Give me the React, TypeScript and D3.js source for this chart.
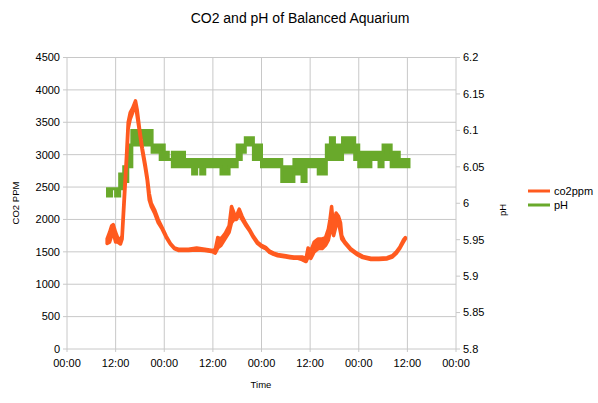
import { useEffect } from "react";
import * as d3 from "d3";

// time in hours from the first 00:00 on the axis
const co2Hours = [
  9.9, 10.5, 11.0, 11.4, 12.0, 12.5, 13.2, 13.6, 14.2, 14.7, 15.1, 15.6, 16.2, 16.9, 17.3, 17.9,
  18.6, 19.3, 19.8, 20.3, 20.8, 21.6, 22.5, 23.5, 24.5, 25.5, 26.5, 27.5, 30, 32, 34, 36, 36.6,
  37.2, 38, 39, 40, 40.6, 41.2, 41.8, 42.5, 43.2, 44, 45, 46, 47, 48, 49, 50, 51, 52, 54, 55, 56,
  57, 58, 59, 59.5, 60.2, 61, 62, 63, 63.8, 64.5, 64.9, 65.3, 65.8, 66.4, 67, 67.5, 67.8, 68.5,
  70, 71.5, 73, 75, 77, 79, 80.3, 81.3, 82.2, 83, 83.5,
];
const co2Low = [
  1630, 1650, 1750, 1800, 1650, 1650, 1620, 1700, 2350, 2900, 3400, 3550, 3650, 3780, 3600, 3350,
  3050, 2800, 2600, 2300, 2200, 2100, 1950, 1850, 1720, 1620, 1550, 1520, 1520, 1530, 1520, 1500, 1480,
  1560, 1600, 1700, 1800, 1950, 2000, 2000, 2080, 2000, 1920, 1830, 1720, 1630, 1580, 1550, 1490, 1460, 1440, 1420, 1410, 1400,
  1400, 1380, 1350, 1420, 1400, 1500, 1550, 1550, 1600, 1680, 1800, 1900, 1750, 1900, 1950, 1800, 1700, 1640,
  1530, 1460, 1410, 1380, 1380, 1390, 1420, 1480, 1560, 1650, 1700,
];
const co2High = [
  1700, 1800, 1900, 1920, 1800, 1720, 1680, 1750, 2450, 3000, 3500, 3650, 3720, 3830, 3700, 3400,
  3100, 2850, 2650, 2400, 2250, 2150, 2000, 1870, 1740, 1630, 1560, 1540, 1540, 1560, 1540, 1520, 1540,
  1720, 1700, 1780, 1900, 2200, 2100, 2050, 2160, 2050, 1950, 1850, 1740, 1650, 1600, 1570, 1510, 1480, 1460, 1440, 1430, 1420,
  1420, 1420, 1400, 1560, 1520, 1650, 1700, 1700, 1720, 1850, 2000, 2200, 1850, 2100, 2050, 1950, 1750, 1660,
  1550, 1480, 1430, 1400, 1400, 1410, 1440, 1500, 1580, 1680, 1720,
];

// pH flickers between adjacent 0.01 steps; low/high per hour from t=10
const phStart = 10;
const phLow = [
  6.01, 6.02, 6.01, 6.02, 6.03, 6.05, 6.08, 6.08, 6.09, 6.08, 6.08, 6.07, 6.07, 6.06, 6.06, 6.06,
  6.05, 6.05, 6.05, 6.05, 6.05, 6.04, 6.05, 6.04, 6.05, 6.05, 6.05, 6.05, 6.04, 6.04, 6.05, 6.05,
  6.06, 6.07, 6.08, 6.08, 6.06, 6.06, 6.05, 6.05, 6.05, 6.05, 6.05, 6.03, 6.03, 6.03, 6.04, 6.04,
  6.03, 6.05, 6.05, 6.05, 6.04, 6.04, 6.06, 6.06, 6.06, 6.06, 6.07, 6.07, 6.07, 6.06, 6.05, 6.05,
  6.05, 6.06, 6.06, 6.05, 6.06, 6.06, 6.05, 6.05, 6.05, 6.05, 6.05,
];
const phHigh = [
  6.02, 6.02, 6.02, 6.04, 6.05, 6.08, 6.10, 6.10, 6.10, 6.10, 6.10, 6.08, 6.08, 6.08, 6.07, 6.06,
  6.07, 6.07, 6.07, 6.06, 6.06, 6.06, 6.06, 6.06, 6.06, 6.06, 6.06, 6.06, 6.06, 6.06, 6.06, 6.06,
  6.08, 6.08, 6.09, 6.09, 6.08, 6.08, 6.06, 6.06, 6.06, 6.06, 6.06, 6.05, 6.05, 6.05, 6.06, 6.06,
  6.06, 6.06, 6.06, 6.06, 6.06, 6.06, 6.08, 6.09, 6.08, 6.08, 6.09, 6.09, 6.09, 6.08, 6.07, 6.07,
  6.07, 6.07, 6.07, 6.07, 6.08, 6.08, 6.07, 6.07, 6.06, 6.06, 6.06,
];

const xTicks = [0, 12, 24, 36, 48, 60, 72, 84, 96];
const xTickLabels = ["00:00", "12:00", "00:00", "12:00", "00:00", "12:00", "00:00", "12:00", "00:00"];
const leftTicks = [0, 500, 1000, 1500, 2000, 2500, 3000, 3500, 4000, 4500];
const rightTicks = [5.8, 5.85, 5.9, 5.95, 6, 6.05, 6.1, 6.15, 6.2];

const ORANGE = "#ff5a1f";
const GREEN = "#69a92b";
const FONT = "'Liberation Sans', Arial, sans-serif";

export default function App() {
  useEffect(() => {
    document.body.style.margin = "0";
  }, []);

  const W = 598;
  const H = 403;
  const m = { l: 67, r: 456, t: 57.5, b: 349 };

  const x = d3.scaleLinear().domain([0, 96]).range([m.l, m.r]);
  const yL = d3.scaleLinear().domain([0, 4500]).range([m.b, m.t]);
  const yR = d3.scaleLinear().domain([5.8, 6.2]).range([m.b, m.t]);

  const co2 = co2Hours.map((t, i) => ({ t, lo: co2Low[i], hi: co2High[i] }));
  const ph = phLow.map((lo, i) => ({ t: phStart + i, lo, hi: phHigh[i] }));
  ph.push({ t: phStart + ph.length - 0.6, lo: phLow[phLow.length - 1], hi: phHigh[phHigh.length - 1] });

  const co2Area = d3
    .area<{ t: number; lo: number; hi: number }>()
    .x((d) => x(d.t))
    .y0((d) => yL(d.lo))
    .y1((d) => yL(d.hi));

  const phArea = d3
    .area<{ t: number; lo: number; hi: number }>()
    .x((d) => x(d.t))
    .y0((d) => yR(d.lo))
    .y1((d) => yR(d.hi))
    .curve(d3.curveStepAfter);

  return (
    <svg width={W} height={H} style={{ display: "block", background: "#fff" }} fontFamily={FONT}>
      <text x={300} y={23} textAnchor="middle" fontSize={14} fill="#000">
        CO2 and pH of Balanced Aquarium
      </text>

      {/* grid */}
      {leftTicks.map((v) => (
        <line key={"h" + v} x1={m.l - 4} x2={m.r} y1={yL(v)} y2={yL(v)} stroke="#c8c8c8" strokeWidth={1} />
      ))}
      {xTicks.map((v) => (
        <line key={"v" + v} x1={x(v)} x2={x(v)} y1={m.t} y2={m.b + 3} stroke="#c8c8c8" strokeWidth={1} />
      ))}

      {/* left axis */}
      {leftTicks.map((v) => (
        <text key={"lt" + v} x={60} y={yL(v)} dy="0.35em" textAnchor="end" fontSize={11} fill="#000">
          {v}
        </text>
      ))}
      {/* right axis */}
      {rightTicks.map((v) => (
        <g key={"rt" + v}>
          <line x1={m.r} x2={m.r + 4} y1={yR(v)} y2={yR(v)} stroke="#c8c8c8" />
          <text x={463} y={yR(v)} dy="0.35em" fontSize={11} fill="#000">
            {String(v)}
          </text>
        </g>
      ))}
      {/* bottom axis */}
      {xTicks.map((v, i) => (
        <text key={"xt" + v} x={x(v)} y={367} textAnchor="middle" fontSize={11} fill="#000">
          {xTickLabels[i]}
        </text>
      ))}

      <text x={261} y={388} textAnchor="middle" fontSize={9.5} fill="#000">
        Time
      </text>
      <text transform="translate(19,203) rotate(-90)" textAnchor="middle" fontSize={9.5} fill="#000">
        CO2 PPM
      </text>
      <text transform="translate(506,210) rotate(-90)" textAnchor="middle" fontSize={9.5} fill="#000">
        pH
      </text>

      {/* series */}
      <path d={phArea(ph) ?? ""} fill={GREEN} stroke={GREEN} strokeWidth={3} />
      <path d={co2Area(co2) ?? ""} fill={ORANGE} stroke={ORANGE} strokeWidth={3.5} strokeLinejoin="round" />

      {/* legend */}
      <line x1={528} x2={550} y1={191} y2={191} stroke={ORANGE} strokeWidth={3} />
      <text x={554} y={191} dy="0.35em" fontSize={11} fill="#000">
        co2ppm
      </text>
      <line x1={528} x2={550} y1={205} y2={205} stroke={GREEN} strokeWidth={3} />
      <text x={554} y={205} dy="0.35em" fontSize={11} fill="#000">
        pH
      </text>
    </svg>
  );
}
